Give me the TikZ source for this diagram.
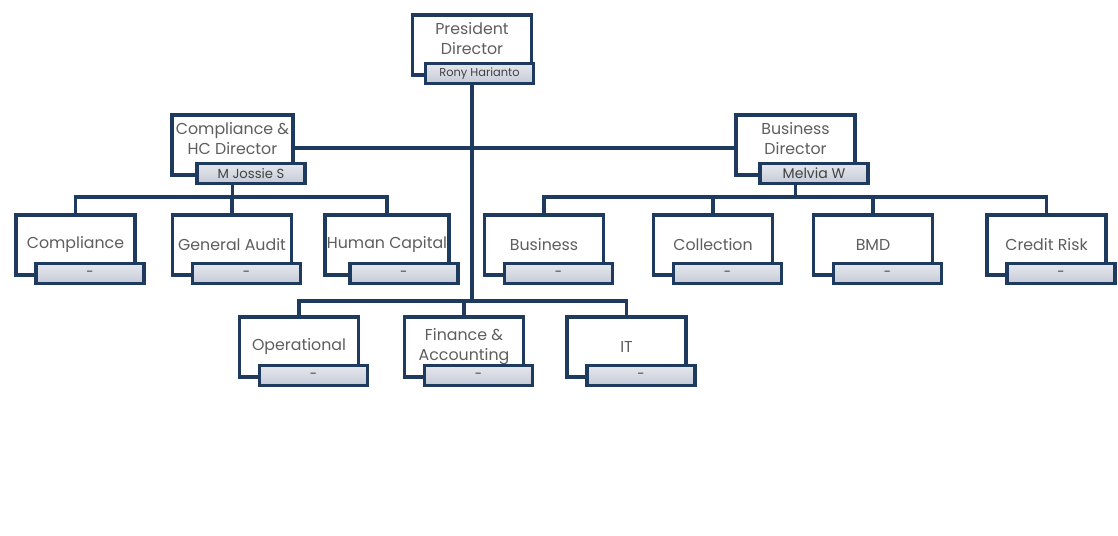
\documentclass[tikz,border=0pt]{standalone}
\usepackage{fontspec}
\setmainfont{Poppins}
\usetikzlibrary{positioning, calc}
\definecolor{orgnavy}{HTML}{1F3A5F}
\definecolor{orgtext}{HTML}{5E5E5E}
\definecolor{orgbar}{HTML}{C3C9D6}

\begin{document}
\begin{tikzpicture}[
  x=0.02cm, y=-0.02cm,
  unit/.style={draw=orgnavy, line width=1.9pt, fill=white,
    minimum width=2.38cm, minimum height=1.20cm, inner sep=1pt,
    align=center, text=orgtext, font=\fontsize{9}{11.5}\selectfont},
  twoline/.style={text depth=0.26cm},
  namebar/.style={draw=orgnavy, line width=1.9pt, anchor=east,
    top color=orgbar!45, bottom color=orgbar, middle color=orgbar!70,
    minimum width=2.16cm, minimum height=0.40cm, inner sep=0pt,
    text=orgtext!70!black, font=\fontsize{7.5}{8}\selectfont},
  link/.style={draw=orgnavy, line width=1.9pt}
]
  \useasboundingbox (0,0) rectangle (1118,535);

  % Directors
  \node[unit, twoline] (pres) at (472,45) {President\\Director};
  \node[namebar, font=\fontsize{6.5}{7}\selectfont] (pres-n)
    at ([xshift=0.04cm, yshift=0.06cm]pres.south east) {Rony Harianto};
  \node[unit, twoline, minimum width=2.42cm] (hcd) at (232.5,145) {Compliance \&\\HC Director};
  \node[namebar] (hcd-n) at ([xshift=0.24cm, yshift=0.06cm]hcd.south east) {M Jossie S};
  \node[unit, twoline] (bd) at (795.5,145) {Business\\Director};
  \node[namebar, font=\fontsize{8}{9}\selectfont] (bd-n)
    at ([xshift=0.26cm, yshift=0.06cm]bd.south east) {Melvia W};

  % Departments
  \foreach \nm/\x/\y/\lbl in {comp/75.5/245/Compliance, gaud/232/245/General Audit,
      hcap/387/245/Human Capital, bus/544/245/Business, coll/713/245/Collection,
      bmd/873/245/BMD, crisk/1046.5/245/Credit Risk, oper/299/347/Operational,
      fin/464/347/{Finance \&\\Accounting}, it/626.5/347/IT} {
    \node[unit] (\nm) at (\x,\y) {\lbl};
    \node[namebar] (\nm-n) at ([xshift=0.18cm, yshift=0.06cm]\nm.south east) {-};
  }

  % Lines
  \coordinate (tbus) at (472,148);
  \coordinate (lbus) at (232,197);
  \coordinate (rbus) at (796,197);
  \coordinate (bbus) at (472,301);

  \draw[link] (pres.south |- pres-n.south) -- (pres.south |- bbus);
  \draw[link] (hcd.east |- tbus) -- (bd.west |- tbus);

  \draw[link] (hcd.south |- hcd-n.south) -- (hcd.south |- lbus);
  \draw[link] (comp.north) -- (comp.north |- lbus) -- (hcap.north |- lbus) -- (hcap.north);
  \draw[link] (gaud.north |- lbus) -- (gaud.north);

  \draw[link] (bd.south |- bd-n.south) -- (bd.south |- rbus);
  \draw[link] (bus.north) -- (bus.north |- rbus) -- (crisk.north |- rbus) -- (crisk.north);
  \foreach \nm in {coll,bmd}
    \draw[link] (\nm.north |- rbus) -- (\nm.north);

  \draw[link] (oper.north) -- (oper.north |- bbus) -- (it.north |- bbus) -- (it.north);
  \draw[link] (fin.north |- bbus) -- (fin.north);
\end{tikzpicture}
\end{document}
